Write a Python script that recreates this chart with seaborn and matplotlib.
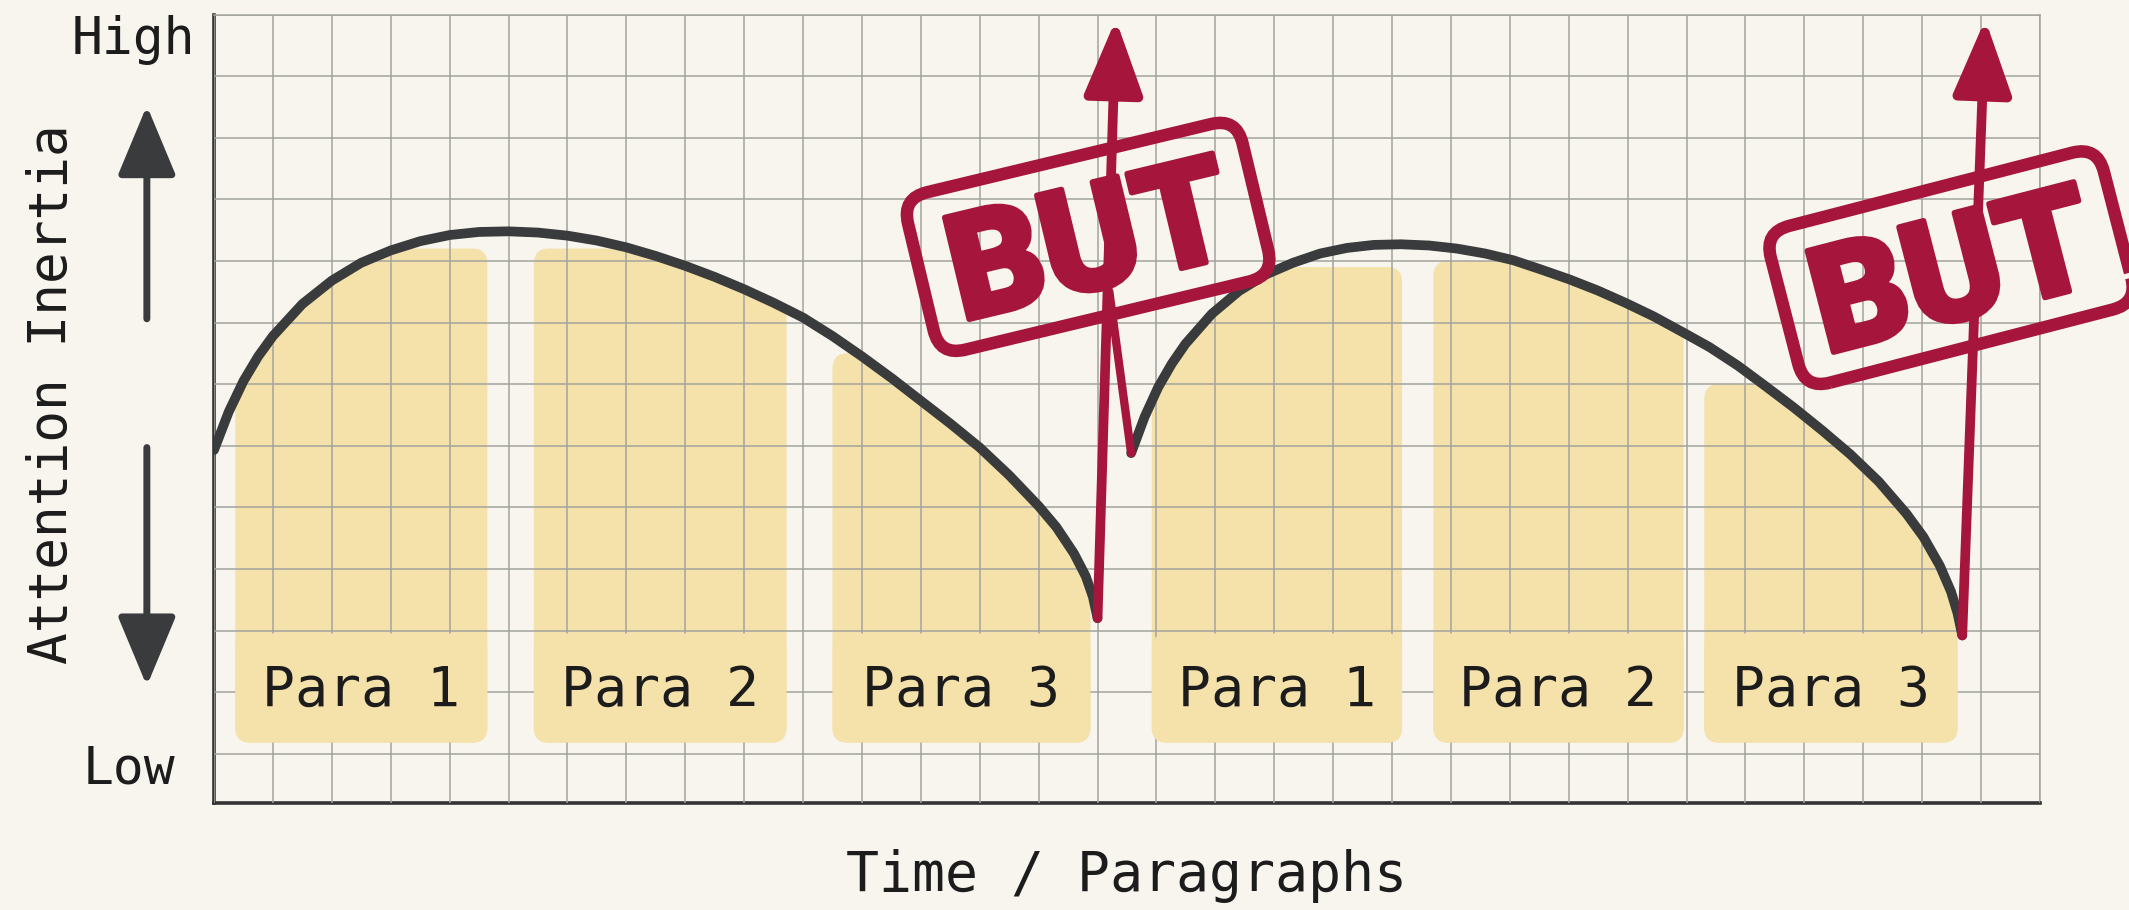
import numpy as np
import pandas as pd
import seaborn as sns
import matplotlib.pyplot as plt
import matplotlib.patheffects as pe
from matplotlib.patches import FancyBboxPatch, Polygon
from matplotlib.transforms import Affine2D

# data (x in grid columns, y in grid rows)
arch1_x = [0.0, 0.25, 0.5, 0.75, 1.0, 1.5, 2.0, 2.5, 3.0, 3.5, 4.0, 4.5, 5.0, 5.5, 6.0, 6.5, 7.0, 7.5,
           8.0, 8.5, 9.0, 9.5, 10.0, 10.5, 11.0, 11.5, 12.0, 12.5, 13.0, 13.5, 14.0, 14.3, 14.6, 14.8, 14.92, 15.0]
arch1_y = [4.93, 5.55, 6.05, 6.45, 6.78, 7.30, 7.68, 7.97, 8.17, 8.32, 8.42, 8.47, 8.48, 8.46, 8.41, 8.33, 8.22, 8.08,
           7.92, 7.74, 7.54, 7.32, 7.08, 6.78, 6.45, 6.10, 5.73, 5.36, 4.97, 4.52, 4.02, 3.68, 3.25, 2.88, 2.55, 2.20]
arch2_x = [15.57, 15.80, 16.03, 16.26, 16.49, 16.94, 17.40, 17.86, 18.32, 18.78, 19.23, 19.69, 20.15, 20.63, 21.10,
           21.58, 22.06, 22.53, 23.01, 23.49, 23.96, 24.44, 24.92, 25.39, 25.87, 26.35, 26.82, 27.30, 27.78, 28.26,
           28.73, 29.02, 29.30, 29.49, 29.60, 29.68]
arch2_y = [4.88, 5.47, 5.95, 6.33, 6.65, 7.14, 7.51, 7.78, 7.97, 8.12, 8.21, 8.26, 8.27, 8.25, 8.20,
           8.12, 8.01, 7.86, 7.70, 7.52, 7.32, 7.10, 6.85, 6.60, 6.30, 5.96, 5.62, 5.25, 4.86, 4.42,
           3.90, 3.52, 3.05, 2.63, 2.28, 1.92]

bar_labels = ['Para 1', 'Para 2', 'Para 3', 'Para 1', 'Para 2', 'Para 3']
bar_left = [0.36, 5.43, 10.5, 15.92, 20.7, 25.3]
bar_right = [4.64, 9.72, 14.88, 20.17, 24.95, 29.6]
bar_top = [8.2, 8.2, 6.5, 7.9, 8.0, 6.0]

# "BUT" interruptions: arrow base, arrow tip, stamp centre, stamp angle
but_base = [(15.0, 2.2), (29.68, 1.92)]
but_tip = [(15.31, 11.92), (30.07, 11.92)]
but_stamp = [(14.84, 8.39), (29.49, 7.89)]
but_angle = [13.5, 14.5]

bg = '#f7f5ee'
yellow = '#f5e2aa'
dark = '#3a3b3c'
red = '#a6163c'
gridc = '#a3a39e'
ink = '#1c1c1c'

sns.set_theme(style='white')
plt.rcParams['font.family'] = ['DejaVu Sans Mono', 'DejaVu Sans']

W, H = 2129, 910
fig = plt.figure(figsize=(W / 100, H / 100), dpi=100, facecolor=bg)
ax = fig.add_axes([214 / W, (H - 803) / H, (2040 - 214) / W, (803 - 14.5) / H], facecolor=bg)
ax.set_xlim(0, 31)
ax.set_ylim(-0.8, 12)
px_x = (2040 - 214) / 31
px_y = (803 - 14.5) / 12.8

# grid paper
ax.set_xticks(range(0, 32))
ax.set_yticks(range(0, 13))
ax.tick_params(length=0, labelbottom=False, labelleft=False)
ax.grid(True, color=gridc, lw=1.1)
ax.set_axisbelow(False)
for s in ['left', 'bottom']:
    ax.spines[s].set_color('#333333')
    ax.spines[s].set_linewidth(2.6)
for s in ['top', 'right']:
    ax.spines[s].set_color(gridc)
    ax.spines[s].set_linewidth(1.1)

# region under the curves, used to clip the bars
pts = [(0, -1)] + list(zip(arch1_x, arch1_y)) + [(15.0, -1), (15.57, -1)] + list(zip(arch2_x, arch2_y)) + [(29.68, -1)]
clip = Polygon(pts, closed=True, transform=ax.transData)

for lab, l, r, t in zip(bar_labels, bar_left, bar_right, bar_top):
    b = FancyBboxPatch((l, 0.18), r - l, t - 0.18, boxstyle='round,pad=0,rounding_size=0.25',
                       fc=yellow, ec='none', zorder=1)
    ax.add_patch(b)
    b.set_clip_path(clip)
    lb = FancyBboxPatch((l, 0.18), r - l, 1.77, boxstyle='round,pad=0,rounding_size=0.25',
                        fc=yellow, ec='none', zorder=2.6)
    ax.add_patch(lb)
    ax.text((l + r) / 2, 1.02, lab, ha='center', va='center', fontsize=39.5, color=ink, zorder=3)

# attention curves
df = pd.DataFrame({'x': arch1_x + arch2_x, 'y': arch1_y + arch2_y,
                   'arch': [1] * len(arch1_x) + [2] * len(arch2_x)})
sns.lineplot(data=df, x='x', y='y', units='arch', estimator=None, sort=False,
             color=dark, lw=7, ax=ax, legend=False)
for ln in ax.lines:
    ln.set_solid_capstyle('round')
    ln.set_solid_joinstyle('round')
    ln.set_zorder(3)
ax.set_xlabel('')
ax.set_ylabel('')

# BUT stamps
fs = 106
cap = 0.711 * fs * 100 / 72
for (cx, cy), ang in zip(but_stamp, but_angle):
    box = FancyBboxPatch((-172, -81), 344, 162, boxstyle='round,pad=0,rounding_size=26',
                         fill=False, ec=red, lw=9, zorder=4, clip_on=False)
    box.set_transform(Affine2D().rotate_deg(ang).scale(1 / px_x, 1 / px_y).translate(cx, cy) + ax.transData)
    ax.add_patch(box)
    a = np.deg2rad(ang)
    bx = cx + np.sin(a) * cap / 2 / px_x
    by = cy - np.cos(a) * cap / 2 / px_y
    ax.text(bx, by, 'BUT', rotation=ang, rotation_mode='anchor', ha='center', va='baseline',
            fontsize=fs, fontweight='black', family=['Roboto', 'DejaVu Sans'], color=red,
            zorder=4, clip_on=False,
            path_effects=[pe.withStroke(linewidth=4, foreground=red)])

# red arrows shooting up
for (bx, by), (tx, ty) in zip(but_base, but_tip):
    ax.annotate('', xy=(tx, ty), xytext=(bx, by), annotation_clip=False, zorder=5,
                arrowprops=dict(arrowstyle='-|>,head_length=1.15,head_width=0.45', color=red,
                                lw=7, mutation_scale=40, shrinkA=0, shrinkB=0))
ax.plot([arch2_x[0], 15.2], [arch2_y[0], 7.5], color=red, lw=6, zorder=5, solid_capstyle='round')

# axis annotations
ax.text(-0.32, 11.59, 'High', ha='right', va='center', fontsize=37, color=ink, clip_on=False)
ax.text(-0.66, -0.26, 'Low', ha='right', va='center', fontsize=37, color=ink, clip_on=False)
ax.text(-2.75, 5.83, 'Attention Inertia', rotation=90, ha='center', va='center', fontsize=38,
        color=ink, clip_on=False)
ax.text(15.5, -1.98, 'Time / Paragraphs', ha='center', va='center', fontsize=39.5,
        color=ink, clip_on=False)

for y0, y1 in [(7.06, 10.52), (4.97, 1.10)]:
    ax.annotate('', xy=(-1.14, y1), xytext=(-1.14, y0), annotation_clip=False,
                arrowprops=dict(arrowstyle='-|>,head_length=1.2,head_width=0.5', color=dark,
                                lw=5, mutation_scale=36, shrinkA=0, shrinkB=0))

fig.savefig('out.png', dpi=100, facecolor=bg)
